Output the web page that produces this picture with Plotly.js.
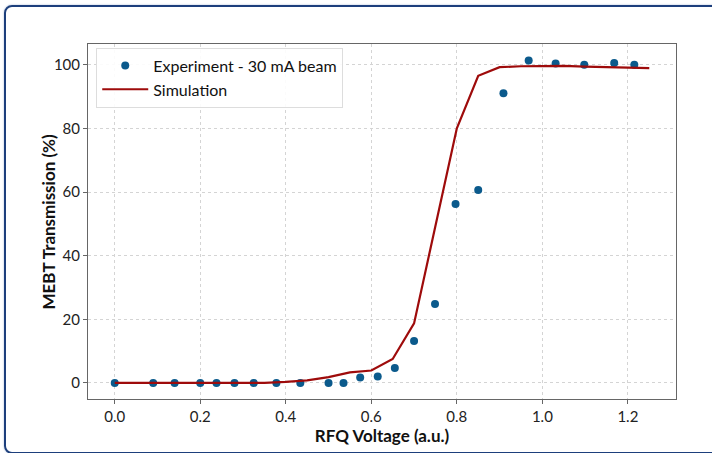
<!DOCTYPE html>
<html>
<head>
<meta charset="utf-8">
<script src="https://cdn.plot.ly/plotly-3.0.1.min.js"></script>
<style>
  html, body { margin:0; padding:0; width:712px; height:453px; overflow:hidden; background:#fff; }
  #frame { position:absolute; left:4px; top:5px; width:760px; height:445px; border:2px solid #1d3f7c; border-radius:8px; box-shadow:0 0 2px #9fb3d6; }
  #chart { position:absolute; left:0; top:0; width:712px; height:453px; }
</style>
</head>
<body>
<div id="frame"></div>
<div id="chart"></div>
<script>
const expVoltage = [0.000, 0.090, 0.140, 0.200, 0.238, 0.280, 0.325, 0.378, 0.434, 0.500, 0.535, 0.574, 0.615, 0.655, 0.700, 0.749, 0.797, 0.850, 0.909, 0.968, 1.031, 1.098, 1.168, 1.215];
const expTransmission = [0.0, 0.0, 0.0, 0.0, 0.0, 0.0, 0.0, 0.0, 0.0, 0.0, 0.0, 1.7, 2.0, 4.7, 13.2, 24.8, 56.3, 60.7, 91.1, 101.4, 100.5, 100.1, 100.6, 100.1];
const simVoltage = [0.00, 0.05, 0.10, 0.15, 0.20, 0.25, 0.30, 0.35, 0.40, 0.45, 0.50, 0.55, 0.60, 0.65, 0.70, 0.75, 0.80, 0.85, 0.90, 0.95, 1.00, 1.05, 1.10, 1.15, 1.20, 1.25];
const simTransmission = [0.0, 0.0, 0.0, 0.0, 0.0, 0.0, 0.0, 0.0, 0.3, 0.8, 1.8, 3.3, 3.9, 7.5, 18.7, 49.5, 80.1, 96.6, 99.3, 99.6, 99.7, 99.7, 99.5, 99.4, 99.2, 99.0];
const xTickVals = [0.0, 0.2, 0.4, 0.6, 0.8, 1.0, 1.2];
const xTickText = ['0.0', '0.2', '0.4', '0.6', '0.8', '1.0', '1.2'];
const yTickVals = [0, 20, 40, 60, 80, 100];

const fontFam = 'Lato, "Noto Sans", sans-serif';
const traces = [
  { x: expVoltage, y: expTransmission, mode: 'markers', type: 'scatter', name: 'Experiment - 30 mA beam',
    marker: { color: '#0b5a8c', size: 8 } },
  { x: simVoltage, y: simTransmission, mode: 'lines', type: 'scatter', name: 'Simulation',
    line: { color: '#9e0b0b', width: 2.2 } }
];
const axisCommon = {
  showline: true, mirror: true, linecolor: '#666', linewidth: 1,
  ticks: 'outside', ticklen: 4, tickcolor: '#666',
  showgrid: true, gridcolor: '#d4d4d4', griddash: 'dot', gridwidth: 1,
  zeroline: false, tickfont: { family: fontFam, size: 15, color: '#222' }
};
const layout = {
  width: 712, height: 453,
  paper_bgcolor: 'rgba(0,0,0,0)', plot_bgcolor: '#fff',
  margin: { l: 88, r: 36, t: 44, b: 54 },
  showlegend: true,
  legend: { x: 0.014, y: 0.99, xanchor: 'left', yanchor: 'top', bgcolor: 'rgba(255,255,255,0.9)',
    bordercolor: '#dddddd', borderwidth: 1, font: { family: fontFam, size: 16, color: '#111' },
    itemwidth: 46, tracegroupgap: 2 },
  xaxis: Object.assign({}, axisCommon, {
    range: [-0.0625, 1.3125], tickvals: xTickVals, ticktext: xTickText,
    title: { text: '<b>RFQ Voltage (a.u.)</b>', font: { family: fontFam, size: 17, color: '#111' }, standoff: 2 }
  }),
  yaxis: Object.assign({}, axisCommon, {
    range: [-5.07, 106.6], tickvals: yTickVals
  }),
  annotations: [{
    text: '<b>MEBT Transmission (%)</b>', xref: 'paper', yref: 'paper', x: -0.068, y: 0.5,
    xanchor: 'center', yanchor: 'middle', textangle: -90, showarrow: false,
    font: { family: fontFam, size: 17, color: '#111' }
  }]
};
Plotly.newPlot('chart', traces, layout, { displayModeBar: false, staticPlot: true });
</script>
</body>
</html>
